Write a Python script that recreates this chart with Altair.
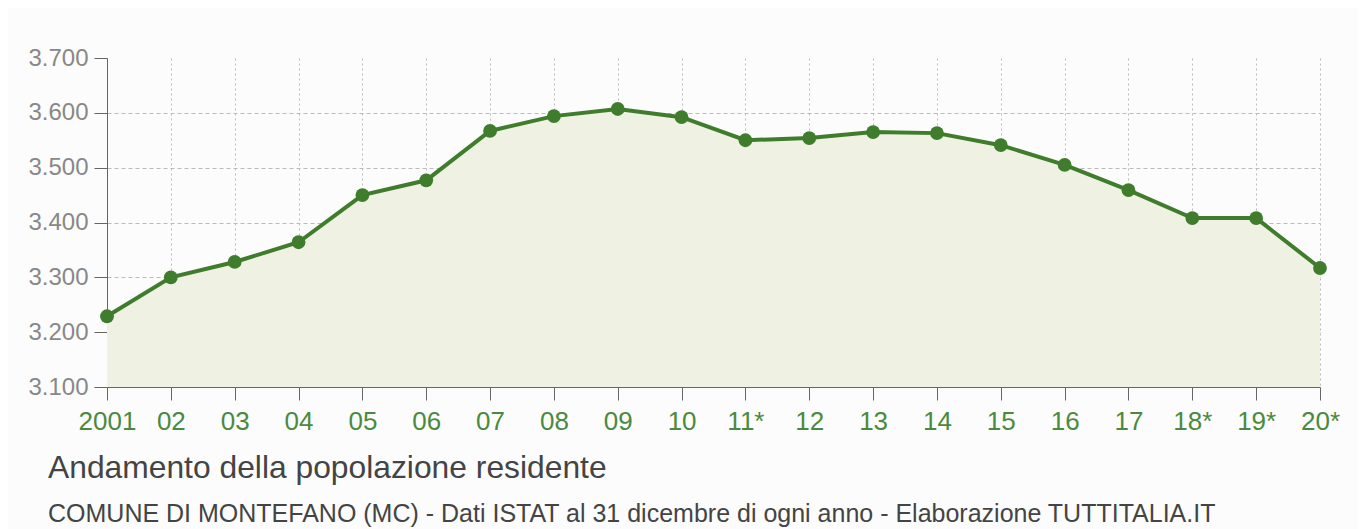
import altair as alt
import pandas as pd

labels = ["2001", "02", "03", "04", "05", "06", "07", "08", "09", "10",
          "11*", "12", "13", "14", "15", "16", "17", "18*", "19*", "20*"]
population = [3229, 3300, 3328, 3364, 3450, 3477, 3567, 3594, 3607, 3592,
              3550, 3554, 3565, 3563, 3541, 3505, 3459, 3408, 3408, 3317]
y_ticks = [3100, 3200, 3300, 3400, 3500, 3600, 3700]

title_text = "Andamento della popolazione residente"
subtitle_text = ("COMUNE DI MONTEFANO (MC) - Dati ISTAT al 31 dicembre di ogni anno"
                 " - Elaborazione TUTTITALIA.IT")

df = pd.DataFrame({"label": labels, "pop": population, "order": list(range(len(labels)))})

FONT = "Liberation Sans"
GREEN = "#3f7c2c"

x_scale = alt.Scale(type="point", padding=0)

x_enc = alt.X(
    "label:N",
    sort=labels,
    scale=x_scale,
    axis=alt.Axis(
        title=None,
        labelAngle=0,
        labelFont=FONT,
        labelFontSize=26,
        labelColor="#4a8a40",
        labelPadding=8,
        tickSize=13,
        tickColor="#666666",
        domainColor="#666666",
        grid=True,
        gridColor="#bbbbbb",
        gridDash=[2, 3],
        gridWidth=1,
    ),
)
x_plain = alt.X("label:N", sort=labels, scale=x_scale)

y_enc = alt.Y(
    "pop:Q",
    scale=alt.Scale(domain=[3100, 3700], zero=False, nice=False),
    axis=alt.Axis(
        title=None,
        values=y_ticks,
        labelExpr="replace(format(datum.value, ','), ',', '.')",
        labelFont=FONT,
        labelFontSize=24,
        labelColor="#888888",
        labelPadding=6,
        tickSize=13,
        tickColor="#666666",
        domainColor="#666666",
        grid=True,
        gridColor="#bbbbbb",
        gridDash=[4, 3],
        gridWidth=1,
        gridOpacity=alt.condition("datum.value == 3700", alt.value(0), alt.value(1)),
    ),
)

base = alt.Chart(df)

area = base.mark_area(color="#eff1e3", opacity=1).encode(
    x=x_enc, y=y_enc, y2=alt.datum(3100)
)
line = base.mark_line(color=GREEN, strokeWidth=4).encode(
    x=x_plain, y="pop:Q", order="order:Q"
)
points = base.mark_circle(color=GREEN, size=190, opacity=1).encode(
    x=x_plain, y="pop:Q"
)

chart = (
    alt.layer(area, line, points)
    .properties(
        width=1213,
        height=329,
        padding={"left": 99, "top": 50, "right": 38, "bottom": 142},
        autosize=alt.AutoSizeParams(type="none"),
        background="#fcfcfc",
        title=alt.TitleParams(
            text=title_text,
            subtitle=subtitle_text,
            orient="bottom",
            anchor="start",
            frame="group",
            dx=-59,
            offset=19,
            font=FONT,
            fontSize=31.8,
            fontWeight="normal",
            color="#444444",
            subtitleFont=FONT,
            subtitleFontSize=25,
            subtitleColor="#444444",
            subtitlePadding=17,
        ),
    )
    .configure_view(stroke=None)
)

chart.save("out.html", embed_options={"renderer": "svg", "actions": False})
